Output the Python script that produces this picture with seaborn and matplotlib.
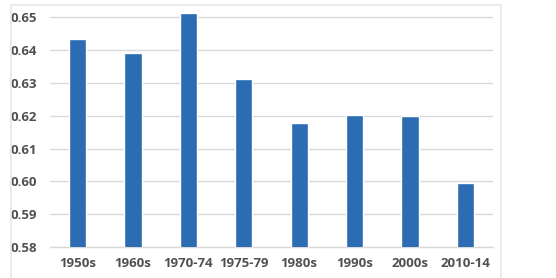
import matplotlib
matplotlib.use("Agg")
import pandas as pd
import seaborn as sns
from matplotlib import pyplot as plt
from matplotlib.patches import Rectangle

# Chart data
periods = ["1950s", "1960s", "1970-74", "1975-79", "1980s", "1990s", "2000s", "2010-14"]
values = [0.6434, 0.6392, 0.6513, 0.6312, 0.6179, 0.6202, 0.6199, 0.5995]
y_ticks = [0.58, 0.59, 0.60, 0.61, 0.62, 0.63, 0.64, 0.65]

df = pd.DataFrame({"period": periods, "value": values})

sns.set_theme(style="white")
plt.rcParams["font.family"] = ["Open Sans", "DejaVu Sans"]

fig = plt.figure(figsize=(5.56, 2.78), dpi=100)
ax = fig.add_axes([50 / 556, 1 - 247 / 278, 443 / 556, 242 / 278])

sns.barplot(data=df, x="period", y="value", color="#2B6CB2", saturation=1,
            width=0.31, ax=ax, zorder=3)

ax.set_ylim(0.58, 0.6538)
ax.set_yticks(y_ticks)
ax.set_yticklabels([f"{t:.2f}" for t in y_ticks])
ax.grid(axis="y", color="#D9D9D9", linewidth=1, zorder=0)
ax.set_xlabel("")
ax.set_ylabel("")
for s in ["top", "right", "left"]:
    ax.spines[s].set_visible(False)
ax.spines["bottom"].set_color("#D9D9D9")
ax.spines["bottom"].set_linewidth(1)
ax.tick_params(axis="both", length=0, colors="#505050", labelsize=9.5)
ax.tick_params(axis="y", pad=9.5)
ax.tick_params(axis="x", pad=7)
for lbl in ax.get_xticklabels() + ax.get_yticklabels():
    lbl.set_fontweight("bold")

# Light chart frame
fig.patches.append(Rectangle((11 / 556, -0.01), 490 / 556, 1 - 5 / 278 + 0.01,
                             transform=fig.transFigure, fill=False,
                             edgecolor="#E6E6E6", linewidth=1.2))

fig.savefig("out.png", dpi=100)
